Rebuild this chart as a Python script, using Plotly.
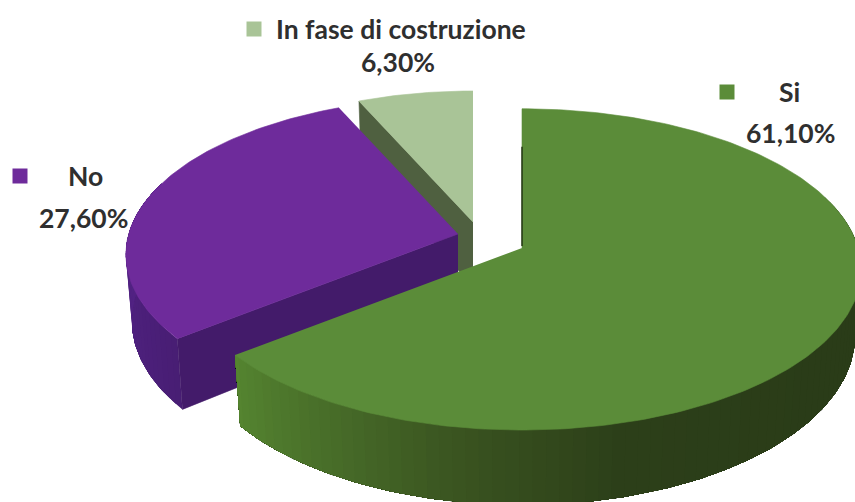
import numpy as np
import plotly.graph_objects as go

# Survey shares, in the order they run clockwise from twelve o'clock
categories = ["Si", "No", "In fase di costruzione"]
values = [61.10, 27.60, 6.30]
value_labels = ["61,10%", "27,60%", "6,30%"]

# Colours of each slice: top face, cut face
top_colors = ["#5b8c39", "#6e2b9b", "#a9c497"]
face_colors = ["#2a3c18", "#431b6a", "#4f6040"]

# Rim shading stops (angle in degrees, colour) for the two slices with a visible rim
GREEN_RIM = [(125, "#2a3c18"), (165, "#2c3f19"), (190, "#3a5420"), (208, "#466a28"), (232, "#558530")]
PURPLE_RIM = [(232, "#481e74"), (260, "#4f2180"), (300, "#5a268d"), (336, "#5a268d")]

# Exploded slice placement: apex x, apex y, radius scale
PLACEMENT = {
    "Si": (522, 248, 0.98),
    "No": (458, 234, 0.96),
    "In fase di costruzione": (473, 222, 0.915),
}

# Perspective of the tilted disc, in pixels of the plot area
SEMI_X, SEMI_Y, FORESHORTEN, THICKNESS, CONVERGE = 343, 161, 0.136, 65, 0.018

WIDTH, HEIGHT = 855, 502


def project(theta, radius, cx, cy, level):
    """Map a polar point on the disc to plot coordinates; level 0 = top, 1 = underside."""
    t = np.radians(theta)
    u, v = radius * np.sin(t), radius * np.cos(t)
    w = 1 + FORESHORTEN * v
    x = cx + SEMI_X * u / w * (1 - CONVERGE * level)
    y = cy - SEMI_Y * v / w + THICKNESS * level / w
    return x, y


def hex_rgb(c):
    return np.array([int(c[i:i + 2], 16) for i in (1, 3, 5)], dtype=float)


def rim_color(stops, angle):
    xs = [s[0] for s in stops]
    rgb = np.array([hex_rgb(s[1]) for s in stops])
    return "rgb({:.0f},{:.0f},{:.0f})".format(*[np.interp(angle, xs, rgb[:, i]) for i in range(3)])


def polygon(xs, ys, color, line=0.6):
    return go.Scatter(
        x=list(xs), y=list(ys), mode="lines", fill="toself", fillcolor=color,
        line=dict(color=color, width=line), hoverinfo="skip", showlegend=False,
    )


# Slices span the full circle in proportion to their share of the listed total
total = sum(values)
edges = np.concatenate([[0], np.cumsum(values) / total * 360])
spans = {c: (edges[i], edges[i + 1]) for i, c in enumerate(categories)}

fig = go.Figure()

# Painted back to front: the small slice, then "No", then "Si"
for name in reversed(categories):
    i = categories.index(name)
    start, end = spans[name]
    cx, cy, r = PLACEMENT[name]
    arc = np.linspace(start, end, max(int(end - start), 12) + 1)

    # Outer rim: each band reaches to the far end of the visible arc and the next
    # one paints over it, so neighbouring bands leave no seams
    if name != "In fase di costruzione":
        stops = GREEN_RIM if name == "Si" else PURPLE_RIM
        visible = arc[np.cos(np.radians(arc)) < 0.35]
        for k in range(0, len(visible) - 1, 2):
            band = visible[k:]
            xt, yt = project(band, r, cx, cy, 0)
            xb, yb = project(band[::-1], r, cx, cy, 1)
            shade = rim_color(stops, band[0] + 1)
            fig.add_trace(polygon(np.r_[xt, xb], np.r_[yt, yb], shade, 0))

    # Radial cut face along the edge turned toward the viewer
    if name != "Si":
        xo, yo = project(start, r, cx, cy, 0)
        xob, yob = project(start, r, cx, cy, 1)
        xib, yib = project(start, 0, cx, cy, 1)
        fig.add_trace(polygon([cx, xo, xob, xib], [cy, yo, yob, yib], face_colors[i]))

    # Top face
    xa, ya = project(arc, r, cx, cy, 0)
    fig.add_trace(polygon(np.r_[cx, xa], np.r_[cy, ya], top_colors[i]))

    # Sliver of shadow along the opening edge of the big slice
    if name == "Si":
        xs, ys = project(start, r, cx, cy, 0)
        fig.add_trace(go.Scatter(
            x=[xs, cx], y=[ys + 38, cy - 2], mode="lines",
            line=dict(color="#1f2f10", width=1.4), hoverinfo="skip", showlegend=False,
        ))

# Data labels: a colour key beside the name, the share underneath
label_layout = {
    "Si": dict(key=(727, 92), name=(789, 92), share=(790, 133)),
    "No": dict(key=(20, 176), name=(85, 176), share=(83, 218)),
    "In fase di costruzione": dict(key=(254, 29), name=(401, 29), share=(398, 62)),
}
font = dict(family="Lato, Carlito, 'Open Sans', sans-serif", size=26.5, color="#2f2f2f")
annotations = []
for i, name in enumerate(categories):
    spot = label_layout[name]
    fig.add_trace(go.Scatter(
        x=[spot["key"][0]], y=[spot["key"][1]], mode="markers",
        marker=dict(symbol="square", size=15, color=top_colors[i], line=dict(width=0)),
        hoverinfo="skip", showlegend=False,
    ))
    annotations.append(dict(x=spot["name"][0], y=spot["name"][1], text=f"<b>{name}</b>",
                            showarrow=False, font=font, xanchor="center", yanchor="middle"))
    annotations.append(dict(x=spot["share"][0], y=spot["share"][1], text=f"<b>{value_labels[i]}</b>",
                            showarrow=False, font=font, xanchor="center", yanchor="middle"))

fig.update_layout(
    width=WIDTH, height=HEIGHT, margin=dict(l=0, r=0, t=0, b=0),
    paper_bgcolor="white", plot_bgcolor="white", showlegend=False,
    xaxis=dict(range=[0, WIDTH], visible=False, fixedrange=True),
    yaxis=dict(range=[HEIGHT, 0], visible=False, fixedrange=True),
    annotations=annotations,
)

fig.write_html("out.html", config={"displayModeBar": False})
